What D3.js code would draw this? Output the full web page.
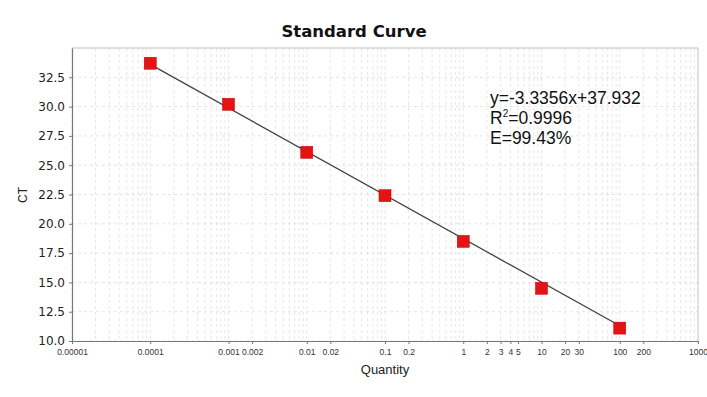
<!DOCTYPE html>
<html>
<head>
<meta charset="utf-8">
<script src="https://d3js.org/d3.v7.min.js"></script>
<style>
  body { margin: 0; background: #fff; }
  svg { display: block; }
</style>
</head>
<body>
<div id="chart"></div>
<script>
// data
var quantities = [0.0001, 0.001, 0.01, 0.1, 1, 10, 100];
var ctValues   = [33.7, 30.2, 26.1, 22.4, 18.5, 14.5, 11.1];

// fitted line end points
var fitQuantity = [0.0001, 100];
var fitCt       = [33.6, 11.3];

var xTickValues = [0.00001, 0.0001, 0.001, 0.002, 0.01, 0.02, 0.1, 0.2,
                   1, 2, 3, 4, 5, 10, 20, 30, 100, 200, 1000];
var xTickLabels = ["0.00001", "0.0001", "0.001", "0.002", "0.01", "0.02", "0.1", "0.2",
                   "1", "2", "3", "4", "5", "10", "20", "30", "100", "200", "1000"];
var yTickValues = [10, 12.5, 15, 17.5, 20, 22.5, 25, 27.5, 30, 32.5];

var equationLines = ["y=-3.3356x+37.932", "R2=0.9996", "E=99.43%"];

var svgWidth = 707;
var svgHeight = 397;

var margin = { top: 48, right: 10, bottom: 56, left: 72 };
var width  = 698 - margin.left;
var height = 341 - margin.top;

var svg = d3.select("#chart")
  .append("svg")
  .attr("width", svgWidth)
  .attr("height", svgHeight)
  .style("font-family", "'Liberation Sans', Arial, sans-serif");

var chartGroup = svg.append("g")
  .attr("transform", `translate(${margin.left}, ${margin.top})`);

var xScale = d3.scaleLog()
  .domain([0.00001, 1000])
  .range([0, width]);

var yScale = d3.scaleLinear()
  .domain([10, 35])
  .range([height, 0]);

// grid lines: every log tick (1..9 per decade) and every 2.5 on y
var gridX = [];
for (var e = -5; e < 3; e++) {
  for (var m = 1; m < 10; m++) gridX.push(m * Math.pow(10, e));
}
gridX.push(1000);

chartGroup.append("g")
  .selectAll("line")
  .data(gridX)
  .enter()
  .append("line")
  .attr("x1", d => xScale(d))
  .attr("x2", d => xScale(d))
  .attr("y1", 0)
  .attr("y2", height)
  .attr("stroke", "#e0e0e0")
  .attr("stroke-width", 0.8)
  .attr("stroke-dasharray", "3,3");

chartGroup.append("g")
  .selectAll("line")
  .data(yTickValues.concat([35]))
  .enter()
  .append("line")
  .attr("x1", 0)
  .attr("x2", width)
  .attr("y1", d => yScale(d))
  .attr("y2", d => yScale(d))
  .attr("stroke", "#dcdcdc")
  .attr("stroke-width", 0.8)
  .attr("stroke-dasharray", "3,3");

// frame top & right
chartGroup.append("line")
  .attr("x1", 0).attr("x2", width).attr("y1", 0).attr("y2", 0)
  .attr("stroke", "#c8c8c8");
chartGroup.append("line")
  .attr("x1", width).attr("x2", width).attr("y1", 0).attr("y2", height)
  .attr("stroke", "#c8c8c8");

// axes
var bottomAxis = d3.axisBottom(xScale)
  .tickValues(xTickValues)
  .tickFormat((d, i) => xTickLabels[i])
  .tickSize(3)
  .tickSizeOuter(0);

var leftAxis = d3.axisLeft(yScale)
  .tickValues(yTickValues)
  .tickFormat(d3.format(".1f"))
  .tickSize(3)
  .tickSizeOuter(0);

var xAxis = chartGroup.append("g")
  .attr("transform", `translate(0, ${height})`)
  .call(bottomAxis);

xAxis.selectAll("text")
  .attr("font-size", "8.5px")
  .attr("font-family", "'Liberation Sans', Arial, sans-serif")
  .attr("fill", "#333")
  .attr("dy", "0.9em");

var yAxis = chartGroup.append("g")
  .call(leftAxis);

yAxis.selectAll("text")
  .attr("font-size", "12px")
  .attr("font-family", "'DejaVu Sans', sans-serif")
  .attr("fill", "#222")
  .attr("x", -7);

chartGroup.selectAll(".domain").attr("stroke", "#777").attr("stroke-width", 1.2);
chartGroup.selectAll(".tick line").attr("stroke", "#777");

// fit line
var line = d3.line()
  .x(d => xScale(d[0]))
  .y(d => yScale(d[1]));

chartGroup.append("path")
  .datum(fitQuantity.map((q, i) => [q, fitCt[i]]))
  .attr("d", line)
  .attr("fill", "none")
  .attr("stroke", "#444")
  .attr("stroke-width", 1.3);

// points
chartGroup.selectAll("rect.pt")
  .data(quantities.map((q, i) => [q, ctValues[i]]))
  .enter()
  .append("rect")
  .attr("class", "pt")
  .attr("x", d => xScale(d[0]) - 6)
  .attr("y", d => yScale(d[1]) - 6)
  .attr("width", 12)
  .attr("height", 12)
  .attr("fill", "#e41414")
  .attr("stroke", "#c00000")
  .attr("stroke-width", 0.5);

// title
svg.append("text")
  .attr("x", 354)
  .attr("y", 37)
  .attr("text-anchor", "middle")
  .attr("font-size", "16.5px")
  .attr("font-weight", "bold")
  .attr("font-family", "'DejaVu Sans', sans-serif")
  .attr("fill", "#111")
  .text("Standard Curve");

// axis titles
svg.append("text")
  .attr("x", 385)
  .attr("y", 374)
  .attr("text-anchor", "middle")
  .attr("font-size", "13px")
  .attr("fill", "#222")
  .text("Quantity");

svg.append("text")
  .attr("transform", "translate(27, 195) rotate(-90)")
  .attr("text-anchor", "middle")
  .attr("font-size", "12px")
  .attr("fill", "#222")
  .text("CT");

// equation
var eq = svg.append("g")
  .attr("font-size", "17.5px")
  .attr("fill", "#111");

eq.append("text")
  .attr("x", 490).attr("y", 104)
  .text(equationLines[0]);

var r2 = eq.append("text")
  .attr("x", 490).attr("y", 124);
r2.append("tspan").text("R");
r2.append("tspan").attr("font-size", "10px").attr("dy", "-7").text("2");
r2.append("tspan").attr("dy", "7").text(equationLines[1].slice(2));

eq.append("text")
  .attr("x", 490).attr("y", 144)
  .text(equationLines[2]);
</script>
</body>
</html>
